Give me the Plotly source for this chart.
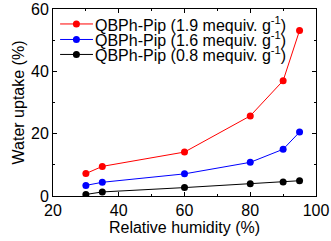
import plotly.graph_objects as go

rh = [30, 35, 60, 80, 90, 95]
red_vals = [7.2, 9.5, 14.1, 25.7, 37.0, 53.1]
blue_vals = [3.4, 4.4, 7.1, 10.8, 15.0, 20.5]
black_vals = [0.5, 1.3, 2.7, 3.9, 4.5, 4.9]
names = ["QBPh-Pip (1.9 mequiv. g<sup>-1</sup>)",
         "QBPh-Pip (1.6 mequiv. g<sup>-1</sup>)",
         "QBPh-Pip (0.8 mequiv. g<sup>-1</sup>)"]
colors = ["#ff0000", "#0000ff", "#000000"]
legend_rows = [0.920, 0.837, 0.757]

fig = go.Figure()
for vals, name, c in zip([red_vals, blue_vals, black_vals], names, colors):
    fig.add_trace(go.Scatter(x=rh, y=vals, mode="lines+markers", name=name,
                             line=dict(color=c, width=1),
                             marker=dict(color=c, size=7), showlegend=False))

# manual compact legend
for name, c, yr in zip(names, colors, legend_rows):
    fig.add_shape(type="line", xref="paper", yref="paper", x0=0.027, x1=0.152, y0=yr, y1=yr,
                  line=dict(color=c, width=1))
    fig.add_shape(type="circle", xref="paper", yref="paper", xsizemode="pixel", ysizemode="pixel",
                  xanchor=0.089, yanchor=yr, x0=-3.5, x1=3.5, y0=-3.5, y1=3.5,
                  fillcolor=c, line=dict(color=c, width=0))
    fig.add_annotation(x=0.152, y=yr, xref="paper", yref="paper", xanchor="left", yanchor="middle",
                       text=name, showarrow=False,
                       font=dict(family="Liberation Sans, Arial", size=16, color="black"))

font = dict(family="Liberation Sans, Arial", size=16, color="black")
axis_common = dict(showgrid=False, zeroline=False, showline=True, mirror="ticks",
                   linecolor="black", linewidth=1, ticks="inside", ticklen=4,
                   tickcolor="black", tickfont=font, automargin=False)
fig.update_xaxes(range=[20, 100], dtick=20, title=dict(text="Relative humidity (%)", font=font, standoff=2),
                 minor=dict(ticks="inside", ticklen=2, dtick=10, tickcolor="black"), **axis_common)
fig.update_yaxes(range=[0, 60], dtick=20, title=dict(text="Water uptake (%)", font=font, standoff=2),
                 minor=dict(ticks="inside", ticklen=2, dtick=10, tickcolor="black"), **axis_common)
fig.update_layout(width=331, height=241, margin=dict(l=53, r=15, t=9, b=45),
                  plot_bgcolor="white", paper_bgcolor="white", font=font, showlegend=False)
fig.write_html("out.html", post_script="document.body.style.margin='0';",
               config={"displayModeBar": False})
